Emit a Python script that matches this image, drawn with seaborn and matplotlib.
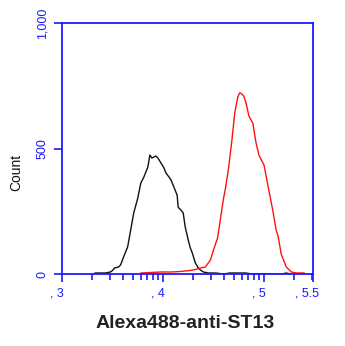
import numpy as np
import pandas as pd
import matplotlib

matplotlib.use("Agg")
import matplotlib.pyplot as plt
import matplotlib.transforms as mtransforms
import seaborn as sns

# histogram channels given as log10(fluorescence), counts per channel
control_log = [3.31, 3.33, 3.43, 3.48, 3.50, 3.52, 3.56, 3.58, 3.61, 3.65, 3.68,
               3.71, 3.75, 3.78, 3.81, 3.85, 3.87, 3.89, 3.91, 3.93, 3.95, 3.98,
               4.01, 4.03, 4.06, 4.08, 4.10, 4.12, 4.14, 4.15, 4.18, 4.20, 4.22,
               4.25, 4.27, 4.29, 4.32, 4.35, 4.37, 4.40, 4.45, 4.52, 4.60, 4.66,
               4.74, 4.82, 4.88, 5.18, 5.22, 5.26]
control_count = [0, 4, 4, 8, 14, 24, 28, 36, 68, 108, 175,
                 243, 302, 362, 386, 426, 474, 462, 466, 470, 462, 442,
                 422, 402, 386, 374, 354, 334, 314, 266, 254, 243, 187,
                 135, 104, 84, 44, 24, 16, 8, 4, 4, 0, 4,
                 4, 4, 0, 0, 4, 0]

st13_log = [3.78, 3.88, 3.98, 4.08, 4.17, 4.27, 4.32, 4.37, 4.42, 4.47, 4.50,
            4.54, 4.57, 4.60, 4.62, 4.65, 4.68, 4.71, 4.74, 4.76, 4.78, 4.80,
            4.82, 4.85, 4.89, 4.92, 4.95, 5.00, 5.04, 5.09, 5.12, 5.14, 5.17,
            5.22, 5.27, 5.32, 5.40]
st13_count = [4, 6, 8, 8, 10, 14, 18, 24, 28, 56, 96,
              143, 223, 303, 345, 425, 525, 640, 705, 722, 718, 708,
              685, 630, 600, 525, 473, 434, 350, 247, 175, 150, 80,
              28, 8, 4, 4]

x_major = [3, 4, 5, 5.485]
x_major_labels = [", 3", ", 4", ", 5", ", 5.5"]
y_ticks = [0, 500, 1000]
y_tick_labels = ["0", "500", "1,000"]

df = pd.concat([
    pd.DataFrame({"fl": np.power(10.0, control_log), "count": control_count, "sample": "control"}),
    pd.DataFrame({"fl": np.power(10.0, st13_log), "count": st13_count, "sample": "ST13"}),
])

sns.set_theme(style="white")
plt.rcParams["font.family"] = ["Liberation Sans", "DejaVu Sans"]
blue = "#1a1aff"

fig = plt.figure(figsize=(3.45, 3.46), dpi=100)
ax = fig.add_axes([62 / 345, 72 / 346, 251 / 345, 251 / 346])

sns.lineplot(data=df, x="fl", y="count", hue="sample", estimator=None, sort=False,
             palette={"control": "#111111", "ST13": "#ff1010"}, linewidth=1.0,
             legend=False, ax=ax)

ax.set_xscale("log")
ax.set_xlim(1e3, 10 ** 5.485)
ax.set_ylim(0, 1000)

ax.set_xticks(np.power(10.0, x_major))
ax.set_xticklabels(x_major_labels)
minor = [m * 10 ** d for d in (3, 4, 5) for m in range(2, 10) if m * 10 ** d < 10 ** 5.485]
ax.set_xticks(minor, minor=True)
ax.set_xticklabels([], minor=True)
ax.set_yticks(y_ticks)
ax.set_yticklabels(y_tick_labels, rotation=90, va="center")

ax.tick_params(axis="both", which="major", direction="out", length=6, width=1.2,
               color=blue, labelcolor=blue, labelsize=9, bottom=True, left=True)
ax.tick_params(axis="x", which="minor", direction="out", length=4.5, width=1.2,
               color=blue, bottom=True)
ax.tick_params(axis="x", which="major", pad=4)
ax.tick_params(axis="y", which="major", pad=4)

shift = mtransforms.ScaledTranslation(-4 / 72, 0, fig.dpi_scale_trans)
for lab in ax.get_xticklabels():
    lab.set_transform(lab.get_transform() + shift)

for s in ax.spines.values():
    s.set_visible(True)
    s.set_color(blue)
    s.set_linewidth(1.3)

ax.set_ylabel("Count", fontsize=10, color="#111111")
ax.yaxis.set_label_coords(-0.155, 0.406)
ax.set_xlabel("Alexa488-anti-ST13", fontsize=14, fontweight="bold", color="#222222")
ax.xaxis.set_label_coords(0.49, -0.165)
ax.grid(False)

fig.savefig("out.png", dpi=100)
